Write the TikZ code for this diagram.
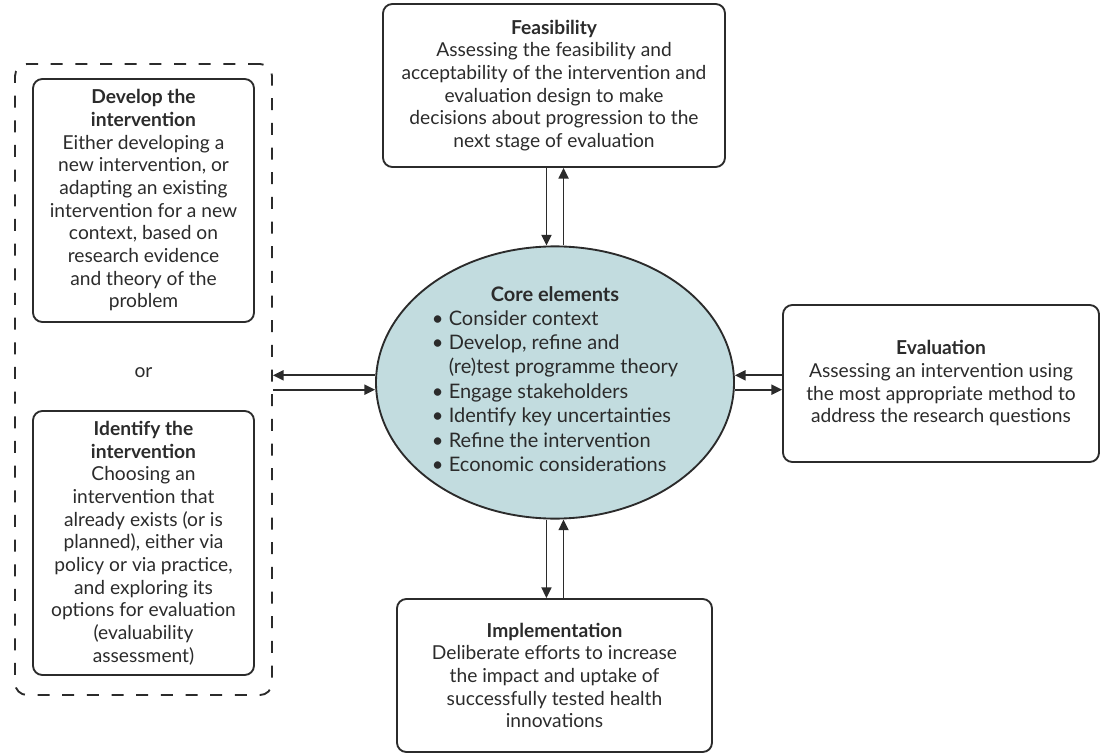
\documentclass[tikz,border=0pt]{standalone}
\usepackage{fontspec}
\setmainfont{Lato}
\usetikzlibrary{arrows.meta,shapes.geometric}
\definecolor{coreblue}{HTML}{C2DCDF}
\definecolor{inkgrey}{HTML}{2B2B2B}
\tikzset{
	% ------- every something
	every node/.style={
		font=\fontsize{14.4}{17}\selectfont,
		text=inkgrey,
	},
	% ------- custom
	stage/.style={
		draw=inkgrey,
		line width=1.4pt,
		rounded corners=7pt,
		align=center,
		inner sep=0pt,
	},
	hub/.style={
		ellipse,
		draw=inkgrey,
		fill=coreblue,
		line width=1.4pt,
		inner sep=0pt,
		align=center,
		font=\fontsize{15}{18.3}\selectfont,
	},
	optionframe/.style={
		draw=inkgrey,
		line width=1.4pt,
		dash pattern=on 9pt off 9.5pt,
		rounded corners=9pt,
		inner sep=0pt,
	},
	flow/.style={
		line width=1.4pt,
		draw=inkgrey,
		-{Triangle[length=8pt,width=7.5pt]},
	},
}

\begin{document}
\begin{tikzpicture}[x=0.75pt,y=-0.75pt]

% frame %{{{1

	\useasboundingbox (0,0) rectangle (1105,755);

% stages %{{{1

	\node[stage, minimum width=256.5pt, minimum height=122.25pt] (feasibility) at (554,85.5)
	{\textbf{Feasibility}\\
	Assessing the feasibility and\\
	acceptability of the intervention and\\
	evaluation design to make\\
	decisions about progression to the\\
	next stage of evaluation};

	\node[hub, minimum width=268.5pt, minimum height=189.75pt] (core) at (555,382.5)
	{\textbf{Core elements}\\[4pt]
	\begin{tabular}{@{}l@{\hspace{4pt}}l@{}}
		\textbullet & Consider context\\
		\textbullet & Develop, refine and\\
		            & (re)test programme theory\\
		\textbullet & Engage stakeholders\\
		\textbullet & Identify key uncertainties\\
		\textbullet & Refine the intervention\\
		\textbullet & Economic considerations
	\end{tabular}};

	\node[stage, minimum width=237pt, minimum height=117.75pt] (evaluation) at (941,383.5)
	{\textbf{Evaluation}\\
	Assessing an intervention using\\
	the most appropriate method to\\
	address the research questions};

	\node[stage, minimum width=236.25pt, minimum height=114.75pt] (implementation) at (554.5,675.5)
	{\textbf{Implementation}\\
	Deliberate efforts to increase\\
	the impact and uptake of\\
	successfully tested health\\
	innovations};

% starting points %{{{1

	\node[optionframe, minimum width=192.75pt, minimum height=473.25pt] (choice) at (143.5,379.5) {};

	\node[stage, minimum width=165.75pt, minimum height=182.25pt] (develop) at (143.5,200.5)
	{\textbf{Develop the}\\
	\textbf{intervention}\\
	Either developing a\\
	new intervention, or\\
	adapting an existing\\
	intervention for a new\\
	context, based on\\
	research evidence\\
	and theory of the\\
	problem};

	\node (or) at (143.5,373) {or};

	\node[stage, minimum width=165.75pt, minimum height=198pt] (identify) at (143.5,543)
	{\textbf{Identify the}\\
	\textbf{intervention}\\
	Choosing an\\
	intervention that\\
	already exists (or is\\
	planned), either via\\
	policy or via practice,\\
	and exploring its\\
	options for evaluation\\
	(evaluability\\
	assessment)};

% arrows %{{{1

	\draw[flow] ([xshift=-6.4pt]core.north |- feasibility.south) -- ([xshift=-6.4pt]core.north);
	\draw[flow] ([xshift=6.4pt]core.north) -- ([xshift=6.4pt]core.north |- feasibility.south);

	\draw[flow] ([xshift=-6.4pt]core.south) -- ([xshift=-6.4pt]core.south |- implementation.north);
	\draw[flow] ([xshift=6.4pt]core.south |- implementation.north) -- ([xshift=6.4pt]core.south);

	\draw[flow] ([yshift=5.4pt]core.east -| evaluation.west) -- ([yshift=5.4pt]core.east);
	\draw[flow] ([yshift=-5.4pt]core.east) -- ([yshift=-5.4pt]core.east -| evaluation.west);

	\draw[flow] ([yshift=5.4pt]core.west) -- ([yshift=5.4pt]core.west -| choice.east);
	\draw[flow] ([yshift=-5.4pt]core.west -| choice.east) -- ([yshift=-5.4pt]core.west);

% closing %{{{1

\end{tikzpicture}
\end{document}
